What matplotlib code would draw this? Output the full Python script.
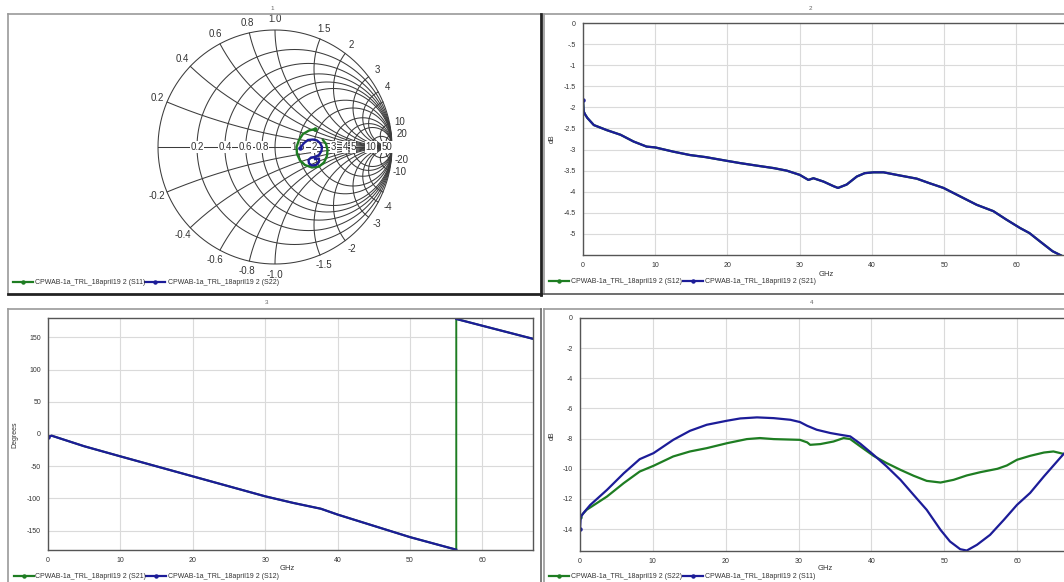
import numpy as np
import matplotlib
matplotlib.use("Agg")
import matplotlib.pyplot as plt
from matplotlib.lines import Line2D

W, H = 1064, 582
plt.rcParams['font.family'] = ['Liberation Sans', 'DejaVu Sans']

# ---------------- data ----------------
trace_name = "CPWAB-1a_TRL_18april19 2"

# Smith chart (reflection coefficient, real / imag)
s11_re = [0.342, 0.291, 0.239, 0.205, 0.184, 0.188, 0.214, 0.256, 0.316, 0.376, 0.419, 0.444, 0.449, 0.436, 0.410]
s11_im = [0.154, 0.141, 0.111, 0.060, 0.000, -0.060, -0.115, -0.154, -0.175, -0.167, -0.132, -0.077, -0.026, 0.026, 0.060]
s22_re = [0.214, 0.248, 0.282, 0.325, 0.359, 0.385, 0.402, 0.397, 0.376, 0.342, 0.308, 0.286, 0.291, 0.316, 0.350, 0.376, 0.376, 0.342]
s22_im = [-0.009, 0.034, 0.060, 0.064, 0.056, 0.034, 0.000, -0.034, -0.068, -0.085, -0.090, -0.111, -0.141, -0.158, -0.154, -0.128, -0.098, -0.103]

smith_r_grid = [0.2, 0.4, 0.6, 0.8, 1.0, 1.5, 2, 3, 4, 5, 10, 20, 50]
smith_x_grid = [0.2, 0.4, 0.6, 0.8, 1.0, 1.5, 2, 3, 4, 5, 10, 20, 50]
smith_r_labels = ["0.2", "0.4", "0.6", "0.8", "1.5", "2", "3", "4", "5", "10", "50"]
smith_x_labels = ["0.2", "0.4", "0.6", "0.8", "1.0", "1.5", "2", "3", "4", "10", "20"]

# S21 / S12 magnitude (dB)
freq_mag = [0.0, 0.1, 0.3, 0.6, 1.5, 3.3, 5.2, 7.0, 8.8, 10.0, 12.5, 14.8, 17.0, 20.0, 21.7, 24.0,
            26.4, 28.2, 30.0, 31.2, 31.9, 33.3, 34.7, 35.3, 36.5, 37.9, 39.0, 40.2, 41.6, 43.4,
            46.2, 48.0, 49.9, 52.2, 54.5, 56.8, 58.6, 60.5, 61.8, 63.2, 65.0, 66.4, 67.0]
s21_db = [-1.83, -2.10, -2.17, -2.25, -2.42, -2.54, -2.65, -2.81, -2.93, -2.95, -3.05, -3.13, -3.18,
          -3.27, -3.32, -3.38, -3.44, -3.50, -3.60, -3.72, -3.68, -3.76, -3.87, -3.91, -3.83, -3.64,
          -3.56, -3.54, -3.54, -3.60, -3.69, -3.80, -3.91, -4.11, -4.31, -4.46, -4.66, -4.86, -4.98,
          -5.17, -5.41, -5.53, -5.58]
mag_yticks = [0, -0.5, -1, -1.5, -2, -2.5, -3, -3.5, -4, -4.5, -5]
mag_ylabels = ["0", "-.5", "-1", "-1.5", "-2", "-2.5", "-3", "-3.5", "-4", "-4.5", "-5"]

# S21 / S12 phase (degrees)
freq_ph = [0.0, 0.5, 5.0, 10.0, 20.0, 30.0, 33.9, 37.7, 40.0, 50.0, 56.4, 56.4, 60.0, 67.1]
phase_deg = [-4.7, -2.6, -19.0, -34.7, -65.7, -96.7, -107.0, -116.0, -125.0, -160.0, -179.5, 178.5, 168.0, 147.4]
jump_index = 10
ph_yticks = [150, 100, 50, 0, -50, -100, -150]

# S11 / S22 magnitude (dB)
freq_s11 = [0.0, 0.1, 0.46, 1.4, 3.7, 6.0, 8.2, 10.1, 12.8, 15.1, 17.4, 20.2, 22.0, 24.3, 26.6, 28.9,
            30.2, 31.2, 32.5, 34.4, 35.7, 37.1, 38.5, 40.3, 42.1, 44.0, 45.8, 47.6, 49.5, 50.8, 52.2,
            53.1, 54.5, 56.3, 58.2, 60.0, 61.8, 63.7, 66.3, 67.0]
s11_db = [-14.0, -13.2, -12.94, -12.4, -11.4, -10.3, -9.36, -8.96, -8.08, -7.48, -7.08, -6.81, -6.66,
          -6.59, -6.64, -6.75, -6.9, -7.15, -7.41, -7.63, -7.74, -7.85, -8.34, -9.07, -9.84, -10.73,
          -11.73, -12.72, -14.05, -14.82, -15.33, -15.42, -15.04, -14.38, -13.38, -12.39, -11.6,
          -10.5, -9.07, -8.75]
freq_s22 = [0.0, 0.9, 3.7, 6.0, 8.2, 10.1, 12.8, 15.1, 17.4, 20.2, 22.9, 24.7, 26.6, 30.2, 31.2, 31.6,
            33.0, 34.8, 36.2, 37.1, 38.5, 40.3, 42.1, 44.0, 45.8, 47.6, 49.5, 51.3, 53.1, 55.0, 57.3,
            58.6, 60.0, 61.8, 63.7, 65.0, 66.3, 67.0]
s22_db = [-13.2, -12.72, -11.84, -10.95, -10.18, -9.8, -9.18, -8.85, -8.63, -8.3, -8.03, -7.96, -8.03,
          -8.08, -8.25, -8.41, -8.36, -8.19, -7.96, -8.03, -8.52, -9.14, -9.62, -10.07, -10.46, -10.8,
          -10.91, -10.73, -10.44, -10.22, -10.0, -9.78, -9.4, -9.14, -8.92, -8.85, -9.0, -9.05]
ret_yticks = [0, -2, -4, -6, -8, -10, -12, -14]

xticks = [0, 10, 20, 30, 40, 50, 60]

# ---------------- style ----------------
GREEN = '#1e7d22'
BLUE = '#1c1c98'
GRID = '#dadada'
TXT = '#333333'

fig = plt.figure(figsize=(W / 100, H / 100), dpi=100)
fig.patch.set_facecolor('white')


def fx(x):
    return x / W


def fy(y):
    return 1 - y / H


def add_axes_px(x0, y0, x1, y1):
    return fig.add_axes([fx(x0), fy(y1), (x1 - x0) / W, (y1 - y0) / H])


def hline(x0, x1, y, color, lw):
    fig.add_artist(Line2D([fx(x0), fx(x1)], [fy(y), fy(y)], transform=fig.transFigure,
                          color=color, lw=lw, clip_on=False))


def vline(x, y0, y1, color, lw):
    fig.add_artist(Line2D([fx(x), fx(x)], [fy(y0), fy(y1)], transform=fig.transFigure,
                          color=color, lw=lw, clip_on=False))


def ftext(x, y, s, **kw):
    fig.text(fx(x), fy(y), s, **kw)


def legend_px(x, y, labels, colors):
    for (lx, tx), lab, col in zip(x, labels, colors):
        fig.add_artist(Line2D([fx(lx), fx(lx + 10), fx(lx + 20)], [fy(y)] * 3,
                              transform=fig.transFigure, color=col, lw=1.6,
                              marker='o', ms=2.2, markevery=[1]))
        ftext(tx, y, lab, fontsize=5, color=TXT, ha='left', va='center')


# ---------------- panel frames ----------------
hline(8, 541, 14, '#9a9a9a', 1.2)
vline(8, 14, 294, '#9a9a9a', 1.2)
vline(540.5, 14, 295, '#222222', 2.0)
hline(8, 541, 294, '#222222', 2.0)
hline(544, 1070, 14, '#9a9a9a', 1.2)
vline(544, 14, 294, '#9a9a9a', 1.2)
hline(544, 1070, 294, '#555555', 1.2)
hline(8, 541, 309, '#9a9a9a', 1.2)
vline(8, 309, 590, '#9a9a9a', 1.2)
vline(540.5, 309, 590, '#666666', 1.2)
hline(544, 1070, 309, '#9a9a9a', 1.2)
vline(544, 309, 590, '#9a9a9a', 1.2)

ftext(272, 8, "1", fontsize=4.5, color='#666666', ha='center', va='center')
ftext(810, 8, "2", fontsize=4.5, color='#666666', ha='center', va='center')
ftext(267, 303, "3", fontsize=4.5, color='#666666', ha='center', va='center')
ftext(812, 303, "4", fontsize=4.5, color='#666666', ha='center', va='center')

# ---------------- Smith chart ----------------
CX, CY, R = 275, 147, 117
axs = add_axes_px(CX - R, CY - R, CX + R, CY + R)
axs.set_xlim(-1, 1)
axs.set_ylim(-1, 1)
axs.axis('off')
gc, glw = '#3c3c3c', 0.75
t = np.linspace(0, 2 * np.pi, 721)
axs.plot(np.cos(t), np.sin(t), color=gc, lw=glw, clip_on=False)
axs.plot([-1, 1], [0, 0], color=gc, lw=glw)
for r in smith_r_grid:
    c, rad = r / (1 + r), 1 / (1 + r)
    axs.plot(c + rad * np.cos(t), rad * np.sin(t), color=gc, lw=glw)
th = np.linspace(0, 2 * np.pi, 3000)
for xv in smith_x_grid:
    for s in (1, -1):
        px = 1 + (1 / xv) * np.cos(th)
        py = s / xv + (1 / xv) * np.sin(th)
        inside = px ** 2 + py ** 2 <= 1.0005
        px = np.where(inside, px, np.nan)
        py = np.where(inside, py, np.nan)
        axs.plot(px, py, color=gc, lw=glw)

for lab in smith_r_labels:
    r = float(lab)
    g = (r - 1) / (r + 1)
    axs.text(g, 0, lab, fontsize=7, color=TXT, ha='center', va='center', zorder=3,
             bbox=dict(fc='white', ec='none', pad=0.4))
for lab in smith_x_labels:
    xv = float(lab)
    ang = 2 * np.arctan(1 / xv)
    for s in (1, -1):
        txt = lab if s > 0 else "-" + lab
        axs.text(1.09 * np.cos(ang), s * 1.09 * np.sin(ang), txt, fontsize=7, color=TXT,
                 ha='center', va='center', clip_on=False)

axs.plot(s11_re, s11_im, color=GREEN, lw=1.7, zorder=5, marker='o', ms=2.2, markevery=[0])
axs.plot(s22_re, s22_im, color=BLUE, lw=1.7, zorder=6, marker='o', ms=2.2, markevery=[0])

legend_px([(13, 35), (145, 168)], 282,
          [trace_name + " (S11)", trace_name + " (S22)"], [GREEN, BLUE])


# ---------------- rectangular panels ----------------
def rect_panel(box, ylim, yticks, yticklabels):
    ax = add_axes_px(*box)
    ax.set_xlim(0, 67)
    ax.set_ylim(*ylim)
    ax.set_xticks(xticks)
    ax.set_yticks(yticks)
    ax.set_yticklabels(yticklabels)
    ax.grid(True, color=GRID, lw=0.8)
    ax.set_axisbelow(True)
    ax.tick_params(length=0, labelsize=5, colors=TXT, pad=5)
    for sp in ax.spines.values():
        sp.set_color('#555555')
        sp.set_linewidth(1.0)
    return ax


ax2 = rect_panel((583, 23, 1067, 255), (-5.5, 0), mag_yticks, mag_ylabels)
ax2.plot(freq_mag, s21_db, color=GREEN, lw=1.6)
ax2.plot(freq_mag, s21_db, color=BLUE, lw=1.6, marker='o', ms=2.2, markevery=[0])
ftext(552, 139, "dB", fontsize=5, color=TXT, rotation=90, ha='center', va='center')
ftext(826, 274, "GHz", fontsize=5.5, color=TXT, ha='center', va='center')
legend_px([(549, 571), (683, 705)], 281,
          [trace_name + " (S12)", trace_name + " (S21)"], [GREEN, BLUE])

ax3 = rect_panel((48, 318, 533, 550), (-180, 180), ph_yticks, [str(v) for v in ph_yticks])
ax3.plot(freq_ph, phase_deg, color=GREEN, lw=1.4)
ax3.plot(freq_ph[:jump_index + 1], phase_deg[:jump_index + 1], color=BLUE, lw=1.6,
         marker='o', ms=2.2, markevery=[0])
ax3.plot(freq_ph[jump_index + 1:], phase_deg[jump_index + 1:], color=BLUE, lw=1.6)
ftext(15, 435, "Degrees", fontsize=5, color=TXT, rotation=90, ha='center', va='center')
ftext(287, 569, "GHz", fontsize=5.5, color=TXT, ha='center', va='center')
legend_px([(14, 35), (146, 168)], 576,
          [trace_name + " (S21)", trace_name + " (S12)"], [GREEN, BLUE])

ax4 = rect_panel((580, 318, 1068, 551), (-15.45, 0), ret_yticks, [str(v) for v in ret_yticks])
ax4.plot(freq_s22, s22_db, color=GREEN, lw=1.6, marker='o', ms=2.2, markevery=[0])
ax4.plot(freq_s11, s11_db, color=BLUE, lw=1.6, marker='o', ms=2.2, markevery=[0])
ftext(552, 436, "dB", fontsize=5, color=TXT, rotation=90, ha='center', va='center')
ftext(825, 569, "GHz", fontsize=5.5, color=TXT, ha='center', va='center')
legend_px([(549, 571), (683, 705)], 576,
          [trace_name + " (S22)", trace_name + " (S11)"], [GREEN, BLUE])

fig.savefig("out.png", dpi=100)
